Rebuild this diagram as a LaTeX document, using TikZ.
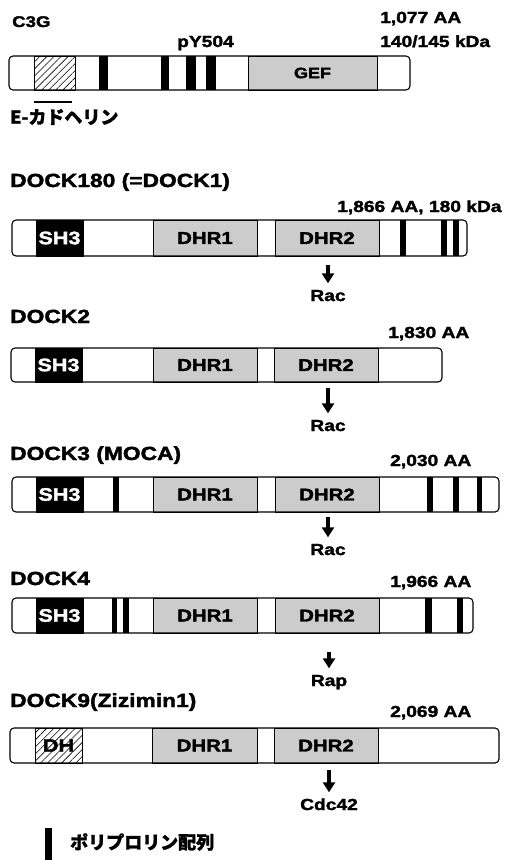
\documentclass[tikz,border=0pt]{standalone}
\usepackage{fontspec}
\setmainfont{Liberation Sans}[FakeStretch=1.2, BoldFeatures={FakeBold=2}]
\newfontfamily\jp{Noto Sans CJK JP}[BoldFeatures={FakeBold=1.5}]
\usetikzlibrary{patterns.meta,arrows.meta}
\tikzset{
  prot/.style={line width=1.1pt, rounded corners=4pt},
  dom/.style={draw, line width=0.9pt, inner sep=0pt, font=\bfseries\fontsize{17}{17}\selectfont},
  shbox/.style={dom, fill=black, text=white, font=\bfseries\fontsize{18}{18}\selectfont},
  dhrbox/.style={dom, fill=black!20},
  hatchbox/.style={dom, pattern={Lines[angle=45,distance=5pt,line width=0.6pt]}},
  pp/.style={fill=black},
  title/.style={anchor=base west, inner sep=0pt, font=\bfseries\fontsize{19}{19}\selectfont},
  sizelbl/.style={anchor=base west, inner sep=0pt, font=\bfseries\fontsize{16}{16}\selectfont},
  tgt/.style={anchor=base, inner sep=0pt, text height=11.5pt, font=\bfseries\fontsize{16}{16}\selectfont},
  arr/.style={-{Triangle[length=10pt,width=12pt]}, line width=3.2pt, shorten >=6pt},
  jplbl/.style={anchor=west, inner sep=0pt, font=\jp\bfseries\fontsize{18}{18}\selectfont}
}
\begin{document}
\begin{tikzpicture}[x=1pt,y=-1pt]
\useasboundingbox (0,0) rectangle (509,860);

% ---------------- C3G ----------------
\node[title, font=\bfseries\fontsize{15.5}{15.5}\selectfont] (c3gt) at (12,27) {C3G};
\node[sizelbl] (c3gs1) at (380,23) {1,077 AA};
\node[sizelbl] (c3gs2) at (380,47) {140/145 kDa};
\node[sizelbl] (pY) at (177,47) {pY504};
\fill[white, prot] (9,56) rectangle (410,90);
\node[hatchbox, minimum width=41pt, minimum height=34pt] (c3gh) at (54.5,73) {};
\node[dhrbox, minimum width=129pt, minimum height=34pt, font=\bfseries\fontsize{15}{15}\selectfont] (gef) at (312.5,73) {GEF};
\fill[pp] (99,56) rectangle (108,90);
\fill[pp] (161,56) rectangle (169,90);
\fill[pp] (186,56) rectangle (196,90);
\fill[pp] (206,56) rectangle (216,90);
\draw[prot] (9,56) rectangle (410,90);
\coordinate (ecl) at (34,102);
\coordinate (ecr) at (72,102);
\draw[line width=1.6pt] (ecl) -- (ecr);
\node[jplbl] (ecad) at (10,117) {E-カドヘリン};

% ---------------- DOCK180 ----------------
\node[title] (d1t) at (10,187) {DOCK180 (=DOCK1)};
\node[sizelbl] (d1s) at (337,212) {1,866 AA, 180 kDa};
\fill[white, prot] (12,220) rectangle (467,256);
\node[shbox, minimum width=47pt, minimum height=36pt] (d1sh3) at (59.5,238) {SH3};
\node[dhrbox, minimum width=104pt, minimum height=36pt] (d1dhr1) at (205,238) {DHR1};
\node[dhrbox, minimum width=104pt, minimum height=36pt] (d1dhr2) at (327,238) {DHR2};
\fill[pp] (400,220) rectangle (406,256);
\fill[pp] (441,220) rectangle (447,256);
\fill[pp] (453,220) rectangle (459,256);
\draw[prot] (12,220) rectangle (467,256);
\coordinate (d1a) at (328,265);
\node[tgt] (d1rac) at (328,301) {Rac};
\draw[arr] (d1a) -- (d1rac.north);

% ---------------- DOCK2 ----------------
\node[title] (d2t) at (10,323) {DOCK2};
\node[sizelbl] (d2s) at (388,338) {1,830 AA};
\fill[white, prot] (11,348) rectangle (442,382);
\node[shbox, minimum width=47pt, minimum height=34pt] (d2sh3) at (58.5,365) {SH3};
\node[dhrbox, minimum width=104pt, minimum height=34pt] (d2dhr1) at (205,365) {DHR1};
\node[dhrbox, minimum width=104pt, minimum height=34pt] (d2dhr2) at (326,365) {DHR2};
\draw[prot] (11,348) rectangle (442,382);
\coordinate (d2a) at (328,388);
\node[tgt] (d2rac) at (328,431) {Rac};
\draw[arr] (d2a) -- (d2rac.north);

% ---------------- DOCK3 ----------------
\node[title] (d3t) at (10,460) {DOCK3 (MOCA)};
\node[sizelbl] (d3s) at (390,466) {2,030 AA};
\fill[white, prot] (12,477) rectangle (499,512);
\node[shbox, minimum width=47pt, minimum height=35pt] (d3sh3) at (59.5,494.5) {SH3};
\node[dhrbox, minimum width=104pt, minimum height=35pt] (d3dhr1) at (205,494.5) {DHR1};
\node[dhrbox, minimum width=104pt, minimum height=35pt] (d3dhr2) at (327,494.5) {DHR2};
\fill[pp] (113,477) rectangle (119,512);
\fill[pp] (427,477) rectangle (433,512);
\fill[pp] (453,477) rectangle (459,512);
\fill[pp] (477,477) rectangle (482,512);
\draw[prot] (12,477) rectangle (499,512);
\coordinate (d3a) at (328,517);
\node[tgt] (d3rac) at (328,555) {Rac};
\draw[arr] (d3a) -- (d3rac.north);

% ---------------- DOCK4 ----------------
\node[title] (d4t) at (10,585) {DOCK4};
\node[sizelbl] (d4s) at (390,587) {1,966 AA};
\fill[white, prot] (12,598) rectangle (473,633);
\node[shbox, minimum width=47pt, minimum height=35pt] (d4sh3) at (59.5,615.5) {SH3};
\node[dhrbox, minimum width=104pt, minimum height=35pt] (d4dhr1) at (205,615.5) {DHR1};
\node[dhrbox, minimum width=104pt, minimum height=35pt] (d4dhr2) at (327,615.5) {DHR2};
\fill[pp] (112,598) rectangle (117,633);
\fill[pp] (123,598) rectangle (129,633);
\fill[pp] (425,598) rectangle (432,633);
\fill[pp] (457,598) rectangle (463,633);
\draw[prot] (12,598) rectangle (473,633);
\coordinate (d4a) at (329,652);
\node[tgt] (d4rap) at (329,686) {Rap};
\draw[arr] (d4a) -- (d4rap.north);

% ---------------- DOCK9 ----------------
\node[title] (d9t) at (10,707) {DOCK9(Zizimin1)};
\node[sizelbl] (d9s) at (390,717) {2,069 AA};
\fill[white, prot] (10,728) rectangle (499,763);
\node[hatchbox, minimum width=47pt, minimum height=35pt, font=\bfseries\fontsize{18}{18}\selectfont] (d9dh) at (58.5,745.5) {DH};
\node[dhrbox, minimum width=105pt, minimum height=35pt] (d9dhr1) at (204.5,745.5) {DHR1};
\node[dhrbox, minimum width=104pt, minimum height=35pt] (d9dhr2) at (326,745.5) {DHR2};
\draw[prot] (10,728) rectangle (499,763);
\coordinate (d9a) at (329,770);
\node[tgt] (d9cdc) at (329,810) {Cdc42};
\draw[arr] (d9a) -- (d9cdc.north);

% ---------------- legend ----------------
\fill[pp] (45,828) rectangle (52,860);
\node[jplbl] (legt) at (70,842) {ポリプロリン配列};
\end{tikzpicture}
\end{document}
